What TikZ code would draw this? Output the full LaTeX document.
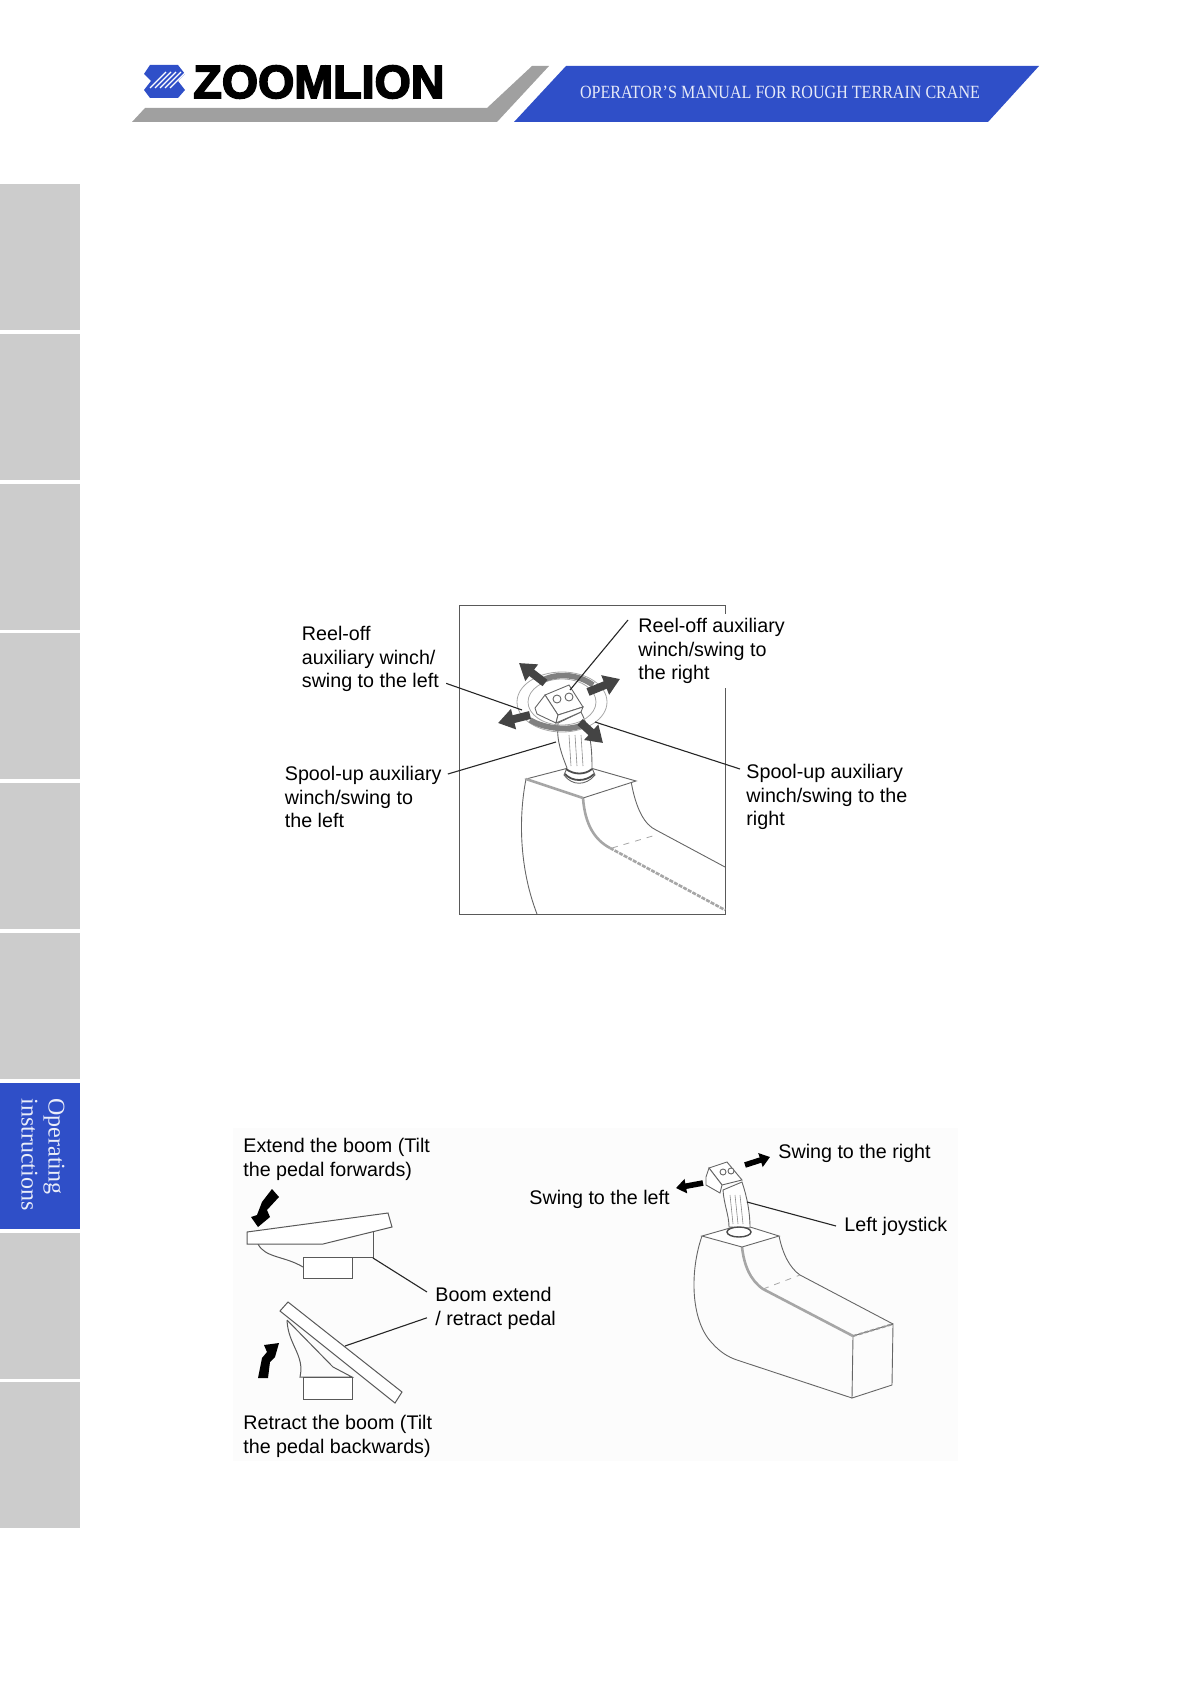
\documentclass[tikz,border=0pt]{standalone}
\usepackage{graphicx}
\usepackage{fontspec}
\setmainfont{Liberation Sans}
\newfontfamily\capserif{Liberation Serif}
\newfontfamily\logofont[FakeBold=3.5]{Liberation Sans Bold}
\usetikzlibrary{arrows.meta, positioning, calc}
\definecolor{zlblue}{RGB}{47,79,200}
\definecolor{zlgray}{RGB}{160,160,160}
\definecolor{tabgray}{RGB}{204,204,204}
\definecolor{darkarrow}{RGB}{68,68,68}
\definecolor{paleback}{RGB}{252,252,252}
\begin{document}
\begin{tikzpicture}[
    x=0.5pt, y=-0.5pt,
    lbl/.style={anchor=north west, inner sep=0pt, align=left,
                font=\fontsize{9.85}{11.8}\selectfont},
    leader/.style={line width=0.55pt, color=black!85},
    sketch/.style={line width=0.45pt, color=black!60},
    heavy/.style={line width=1.3pt, color=black!35},
    bigarrow/.style={-{Triangle[length=8pt,width=10pt]}, line width=4pt, color=darkarrow},
    swingarrow/.style={-{Triangle[length=5pt,width=7pt]}, line width=2.8pt, color=black},
    pedal/.style={line width=0.5pt, color=black!65, fill=white}
  ]
    \useasboundingbox (0,0) rectangle (1191,1684);
    \fill[zlgray] (132,122) -- (145,108) -- (487,108) -- (532,66) -- (549,66) -- (497,122) -- cycle;
    \fill[zlblue] (514,122) -- (566,66) -- (1039,66) -- (988,122) -- cycle;
    \fill[zlblue] (150,65) -- (178,65) -- (185,74) -- (178,81) -- (185,90) -- (178,98) -- (150,98)
      -- (144,90) -- (151,81) -- (144,74) -- cycle;
    \foreach \s in {0,5,...,20}
      \draw[white, line width=0.6pt] (150+\s,88) -- (166+\s,72);
    \node[inner sep=0pt, anchor=west] (brand) at (193,82) {\logofont\fontsize{23.3}{23.3}\selectfont ZOOMLION};
    \node[inner sep=0pt, text=white!88!zlblue] (manual) at (780,92)
      {\resizebox{200pt}{6.2pt}{\capserif OPERATOR’S MANUAL FOR ROUGH TERRAIN CRANE}};
    \foreach \t in {0,...,8}
      \fill[tabgray] (0,184+149.8*\t) rectangle (80,330+149.8*\t);
    \fill[zlblue] (0,1083) rectangle (80,1229);
    \node[rotate=-90, anchor=north west, inner sep=0pt, align=left, text=white!90!zlblue,
      font=\capserif\fontsize{12}{13.5}\selectfont] (tabtext) at (65,1098) {Operating\\instructions};

    \draw[line width=0.45pt, color=black!65] (459,605) rectangle (725,914);
    \draw[sketch] (526,779) .. controls (518,820) and (520,870) .. (537,914);
    \draw[heavy] (583,798) .. controls (585,825) and (595,840) .. (610,848);
    \draw[heavy, dash pattern=on 2pt off 0.6pt] (610,848) -- (725,910);
    \draw[sketch] (631,781) .. controls (636,810) and (645,825) .. (656,830) -- (725,867);
    \draw[black!35, line width=0.4pt, dashed] (612,848) -- (656,835);
    \draw[sketch, fill=white] (526,779) -- (583,798) -- (636,781) -- (580,765) -- cycle;
    \draw[heavy] (526,779) -- (583,798);
    \draw[sketch, fill=white] (558,723) .. controls (556,740) and (562,755) .. (567,768)
      -- (564,775) .. controls (572,786) and (586,786) .. (595,775) -- (592,768)
      .. controls (592,745) and (590,730) .. (581,712) -- cycle;
    \draw[black!70, line width=0.9pt] (565,774) .. controls (572,782) and (586,782) .. (594,774);
    \draw[black!70, line width=0.9pt] (566,769) .. controls (574,775) and (585,775) .. (592,769);
    \foreach \s in {0,6,12}
      \draw[black!45, line width=0.3pt] (569+\s,735) -- (571+\s,766);
    \draw[black!35, line width=0.4pt] (562,702) ellipse [x radius=45, y radius=30];
    \draw[black!35, line width=0.4pt] (562,702) ellipse [x radius=34, y radius=23];
    \draw[black!50, line width=2.8pt] (543,680) .. controls (557,673) and (578,674) .. (593,685);
    \draw[black!50, line width=2.8pt] (530,720) .. controls (545,729) and (570,731) .. (582,725);
    \draw[sketch, fill=white] (545,695) -- (569,685) -- (583,707) -- (558,715) -- cycle;
    \draw[sketch, fill=white] (545,695) -- (535,708) -- (537,714) -- (556,723) -- (558,715) -- cycle;
    \draw[sketch, fill=white] (556,723) -- (581,712) -- (583,707) -- (558,715) -- cycle;
    \draw[sketch, fill=white] (557,699) circle (4) (569,697) circle (4);
    \draw[bigarrow] (545,683) -- (519,663);
    \draw[bigarrow] (588,692) -- (620,679);
    \draw[bigarrow] (530,715) -- (498,723);
    \draw[bigarrow] (580,722) -- (603,743);
    \coordinate (reeltop) at (522,710);
    \coordinate (reelhead) at (570,690);
    \coordinate (spoolstick) at (556,742);
    \coordinate (spoolring) at (595,722);
    \node[lbl] (reelleft) at (301.5,626) {Reel-off\\auxiliary winch/\\swing to the left};
    \node[lbl, fill=white, inner ysep=2pt] (reelright) at (638,614) {Reel-off auxiliary\\winch/swing to\\the right};
    \node[lbl] (spoolleft) at (284.5,766) {Spool-up auxiliary\\winch/swing to\\the left};
    \node[lbl] (spoolright) at (746,764) {Spool-up auxiliary\\winch/swing to the\\right};
    \draw[leader] ([shift={(7,-9)}]reelleft.south east) -- (reeltop);
    \draw[leader] ([xshift=-5pt,yshift=-3pt]reelright.north west) -- (reelhead);
    \draw[leader] ([xshift=3pt]spoolleft.north east |- spoolleft.north) ++(0,8) -- (spoolstick);
    \draw[leader] ([shift={(-6,5)}]spoolright.north west) -- (spoolring);

    \fill[paleback] (233,1128) rectangle (958,1461);
    \draw[pedal] (303,1257) rectangle (352,1278);
    \draw[pedal, fill=none] (373,1232) -- (373,1257) -- (303,1257);
    \draw[pedal, fill=none] (258,1244) .. controls (265,1258) and (285,1256) .. (303,1267);
    \draw[pedal] (247,1232) -- (388,1213) -- (392,1227) -- (323,1244) -- (247,1244) -- cycle;
    \draw[pedal] (303,1377) rectangle (352,1399);
    \draw[pedal, fill=none] (287,1320) -- (333,1367) -- (352,1377) -- (300,1377)
      .. controls (305,1355) and (288,1345) .. (287,1320);
    \draw[pedal] (288,1302) -- (280,1311) -- (395,1403) -- (402,1392) -- cycle;
    \fill (272,1189) -- (279,1197) -- (267,1210) -- (270,1217) -- (258,1227) -- (251,1217) -- (257,1215) -- (262,1202) -- cycle;
    \fill (258,1378) -- (268,1378) -- (270,1362) -- (275,1357) -- (279,1343) -- (264,1345) -- (267,1352) -- (262,1358) -- cycle;
    \node[lbl] (extend) at (243,1138) {Extend the boom (Tilt\\the pedal forwards)};
    \node[lbl] (retract) at (243,1415) {Retract the boom (Tilt\\the pedal backwards)};
    \node[lbl] (pedallbl) at (435,1287) {Boom extend\\/ retract pedal};
    \coordinate (pedaltop) at (373,1258);
    \coordinate (pedalbot) at (345,1346);
    \draw[leader] ([xshift=-4pt]pedallbl.north west) ++(0,5) -- (pedaltop);
    \draw[leader] ([xshift=-4pt]pedallbl.south west) ++(0,-12) -- (pedalbot);

    \draw[sketch] (702,1236) .. controls (690,1270) and (690,1320) .. (712,1343)
      .. controls (720,1352) and (728,1357) .. (737,1360) -- (852,1398);
    \draw[sketch] (852,1398) -- (853,1336) -- (893,1324) -- (892,1385) -- cycle;
    \draw[heavy] (742,1247) .. controls (744,1265) and (750,1280) .. (763,1289) -- (853,1336);
    \draw[sketch] (779,1236) .. controls (783,1255) and (790,1268) .. (800,1275) -- (893,1324);
    \draw[black!35, line width=0.4pt, dashed] (763,1289) -- (800,1275);
    \draw[black!40, line width=1pt, dash pattern=on 2pt off 1pt] (853,1336) -- (893,1324);
    \draw[sketch, fill=white] (702,1236) -- (742,1247) -- (779,1236) -- (750,1227) -- (730,1228) -- cycle;
    \draw[sketch, fill=white] (723,1190) .. controls (724,1205) and (729,1215) .. (729,1227)
      -- (750,1228) .. controls (750,1212) and (747,1197) .. (742,1182) -- cycle;
    \foreach \s in {0,5,10}
      \draw[black!45, line width=0.3pt] (730+\s,1195) -- (733+\s,1224);
    \draw[black!70, line width=0.7pt, fill=white] (739,1232) ellipse [x radius=12, y radius=5];
    \draw[sketch, fill=white] (709,1168) -- (727,1162) -- (742,1180) -- (722,1185) -- cycle;
    \draw[sketch, fill=white] (709,1168) -- (706,1177) -- (706,1185) -- (720,1193) -- (722,1185) -- cycle;
    \draw[sketch, fill=white] (723,1172) circle (3) (731,1171) circle (3);
    \draw[swingarrow] (745,1165) -- (770,1157);
    \draw[swingarrow] (703,1183) -- (676,1188);
    \node[lbl, anchor=west] (swingleft) at (529,1199) {Swing to the left};
    \node[lbl, anchor=west] (swingright) at (778,1153) {Swing to the right};
    \node[lbl, anchor=west] (joylbl) at (844,1226) {Left joystick};
    \coordinate (joystick) at (747,1202);
    \draw[leader] ([xshift=-4pt]joylbl.west) -- (joystick);
  \end{tikzpicture}
\end{document}
